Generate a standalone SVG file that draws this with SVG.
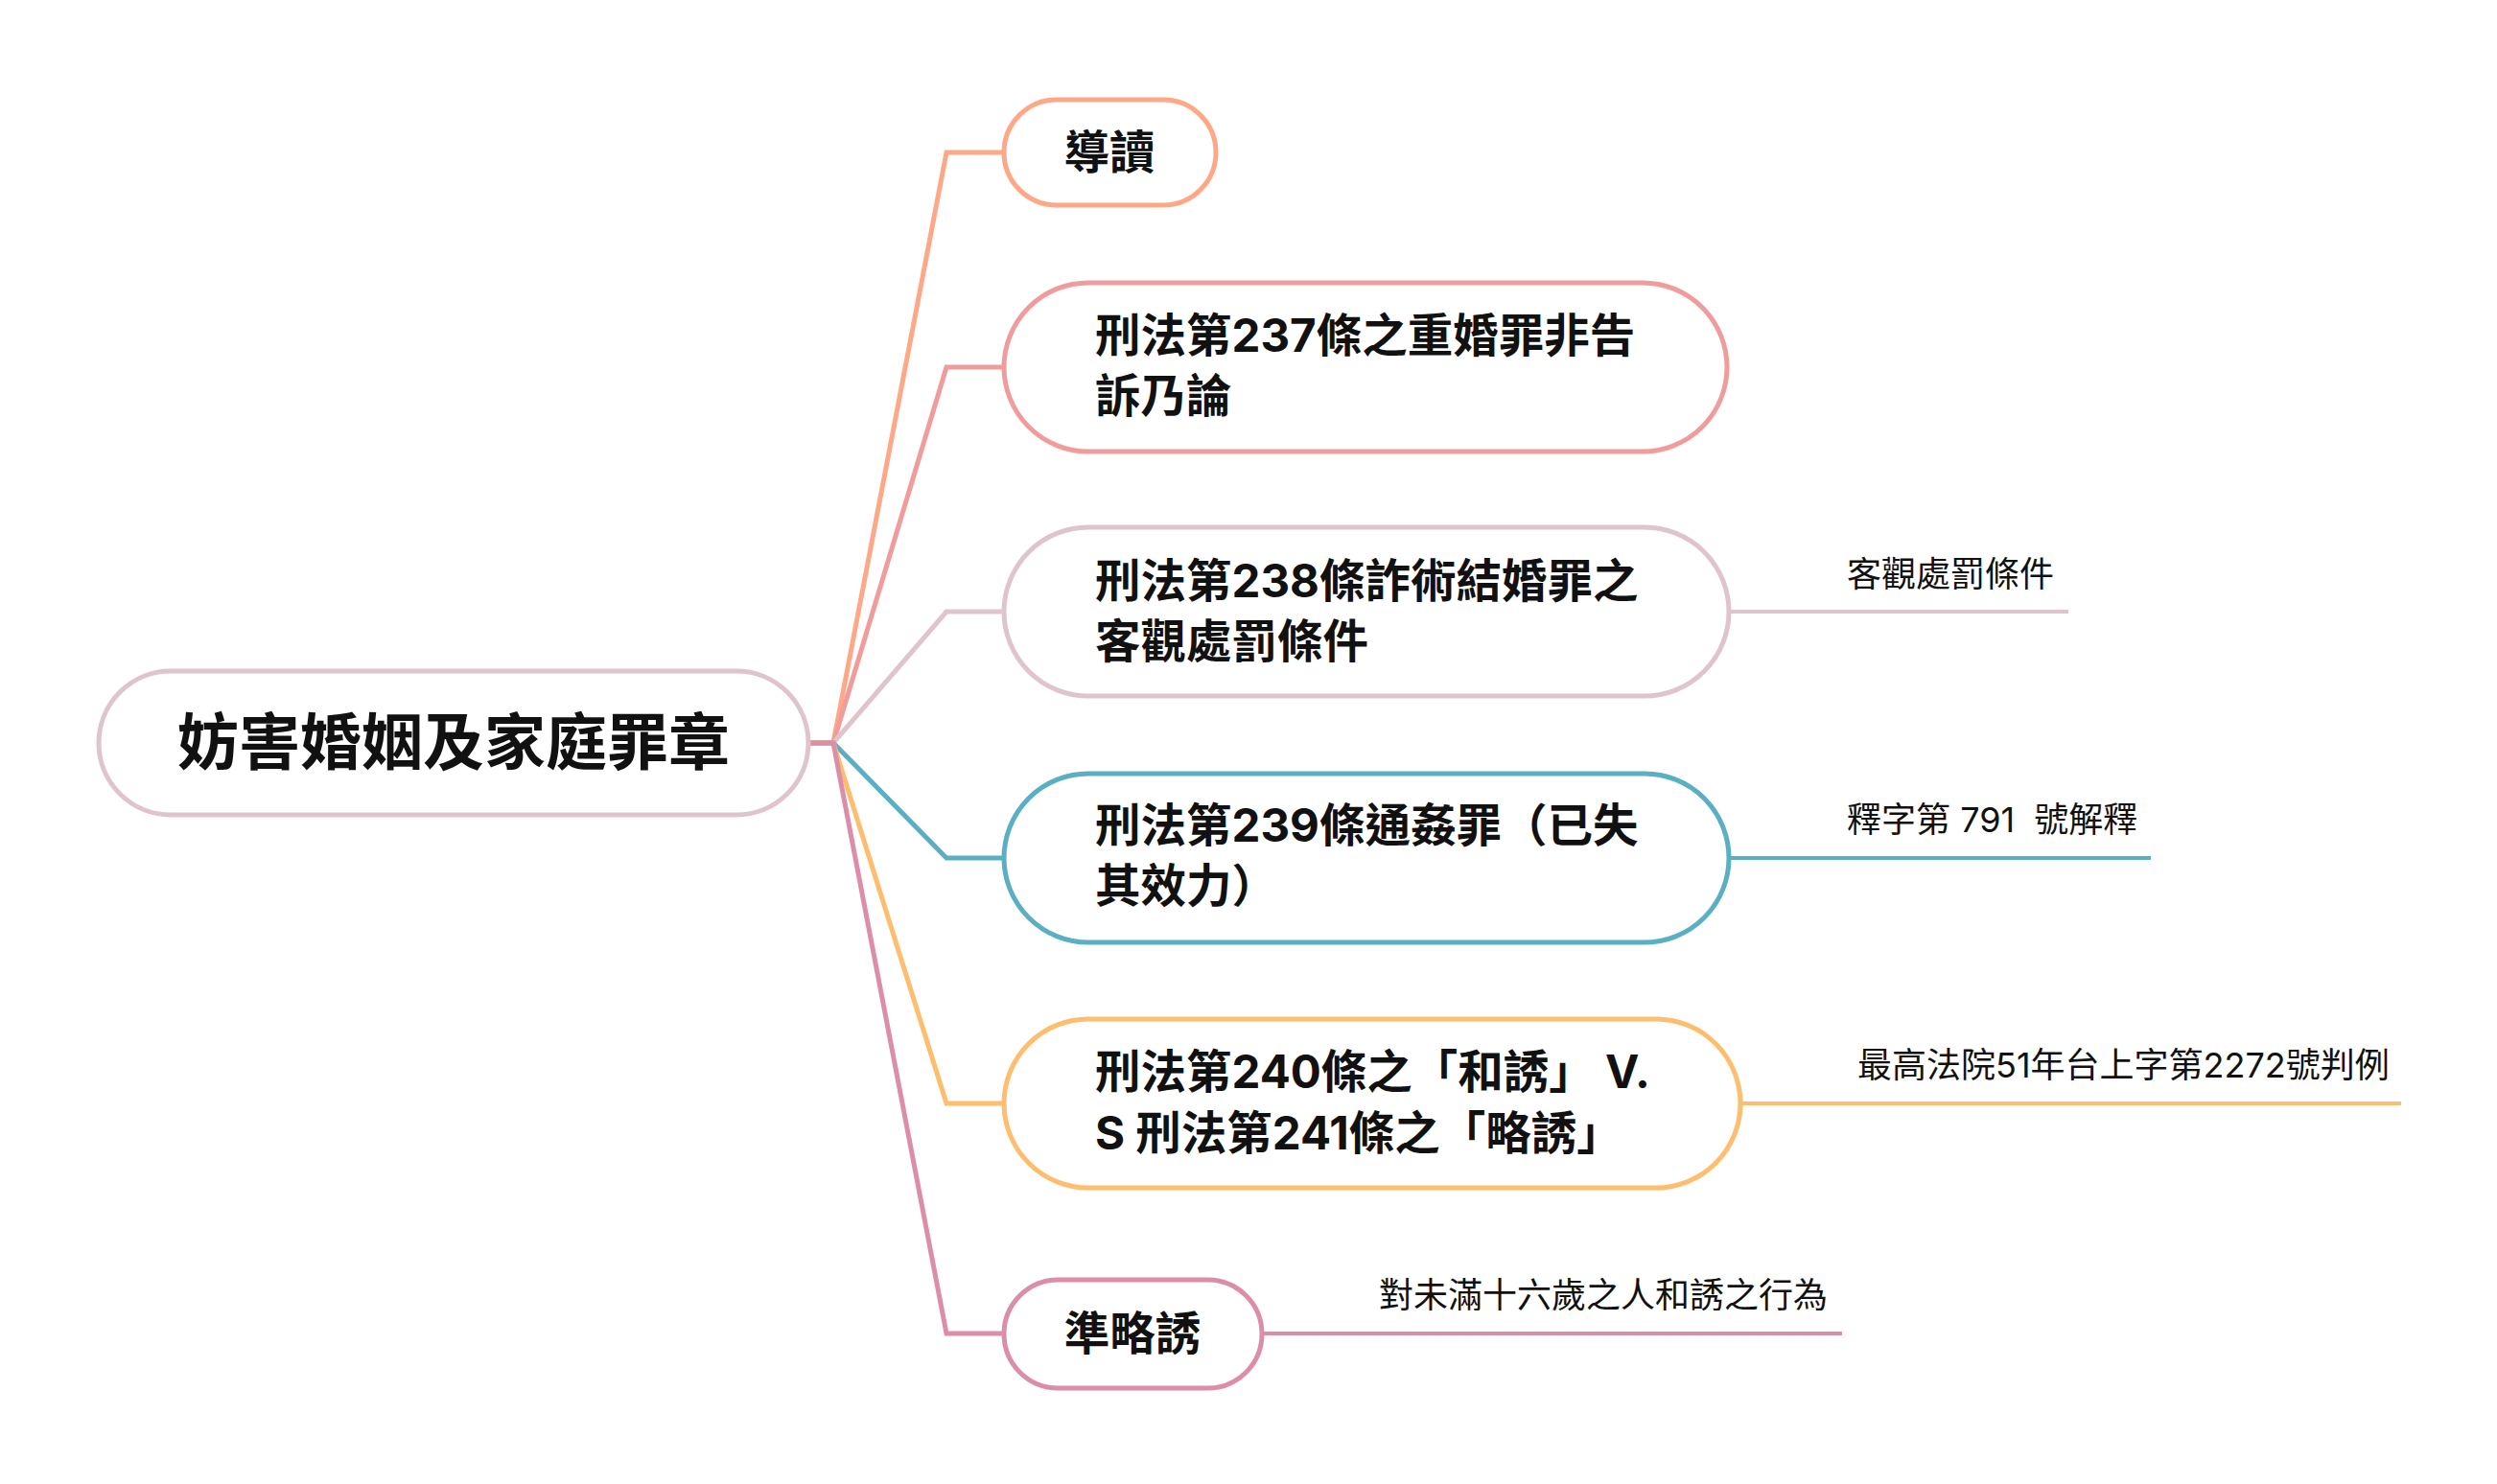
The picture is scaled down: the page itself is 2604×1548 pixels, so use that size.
<svg xmlns="http://www.w3.org/2000/svg" width="2604" height="1548" viewBox="0 0 2604 1548">
<style>
.box{fill:#FFFFFF;stroke-width:5}
.conn{fill:none;stroke-width:5;stroke-linejoin:miter;stroke-linecap:butt}
.leaf{fill:none;stroke-width:4}
.t{font-family:Inter,"Noto Sans CJK TC",sans-serif;font-weight:700;font-size:47.5px;fill:#111111}
.root{font-family:Inter,"Noto Sans CJK TC",sans-serif;font-weight:700;font-size:64px;fill:#111111}
.lt{font-family:Inter,"Noto Sans CJK TC",sans-serif;font-weight:400;font-size:36px;fill:#111111;white-space:pre}
</style>
<rect width="2604" height="1548" fill="#FFFFFF"/>
<g id="connectors">
<path class="conn" stroke="#FFA888" d="M843,775 H869 L987,159 H1047"/>
<path class="conn" stroke="#F19C9C" d="M843,775 H869 L987,383 H1047"/>
<path class="conn" stroke="#E0C4CC" d="M843,775 H869 L987,638 H1047"/>
<path class="conn" stroke="#5AAFC3" d="M843,775 H869 L987,895 H1047"/>
<path class="conn" stroke="#FFBD6E" d="M843,775 H869 L987,1151 H1047"/>
<path class="conn" stroke="#DC8EA8" d="M843,775 H869 L987,1391 H1047"/>
<line class="leaf" stroke="#E0C4CC" x1="1803" y1="638" x2="2157" y2="638"/>
<line class="leaf" stroke="#5AAFC3" x1="1803" y1="895" x2="2243" y2="895"/>
<line class="leaf" stroke="#FFBD6E" x1="1815" y1="1151" x2="2504" y2="1151"/>
<line class="leaf" stroke="#DC8EA8" x1="1316" y1="1391" x2="1921" y2="1391"/>
</g>
<g id="root">
<rect class="box" stroke="#E0C4CC" x="103" y="700" width="740" height="150" rx="75"/>
<text class="root" x="473" y="797" text-anchor="middle">妨害婚姻及家庭罪章</text>
</g>
<g id="n1">
<rect class="box" stroke="#FFA888" x="1047" y="104" width="221" height="110" rx="55"/>
<text class="t" x="1157" y="176" text-anchor="middle">導讀</text>
</g>
<g id="n2">
<rect class="box" stroke="#F19C9C" x="1047" y="295" width="754" height="176" rx="88"/>
<text class="t" x="1142" y="367">刑法第237條之重婚罪非告</text>
<text class="t" x="1142" y="430">訴乃論</text>
</g>
<g id="n3">
<rect class="box" stroke="#E0C4CC" x="1047" y="550" width="756" height="176" rx="88"/>
<text class="t" x="1142" y="623">刑法第238條詐術結婚罪之</text>
<text class="t" x="1142" y="686">客觀處罰條件</text>
</g>
<g id="n3a">
<text class="lt" x="1926" y="612">客觀處罰條件</text>
</g>
<g id="n4">
<rect class="box" stroke="#5AAFC3" x="1047" y="807" width="756" height="176" rx="88"/>
<text class="t" x="1142" y="878">刑法第239條通姦罪（已失</text>
<text class="t" x="1142" y="941">其效力）</text>
</g>
<g id="n4a">
<text class="lt" x="1926" y="868">釋字第 791  號解釋</text>
</g>
<g id="n5">
<rect class="box" stroke="#FFBD6E" x="1047" y="1063" width="768" height="176" rx="88"/>
<text class="t" x="1142" y="1135">刑法第240條之「和誘」 V.</text>
<text class="t" x="1142" y="1199">S 刑法第241條之「略誘」</text>
</g>
<g id="n5a">
<text class="lt" x="1937" y="1124">最高法院51年台上字第2272號判例</text>
</g>
<g id="n6">
<rect class="box" stroke="#DC8EA8" x="1047" y="1335" width="269" height="113" rx="56.5"/>
<text class="t" x="1181" y="1408" text-anchor="middle">準略誘</text>
</g>
<g id="n6a">
<text class="lt" x="1438" y="1364">對未滿十六歲之人和誘之行為</text>
</g>
</svg>
